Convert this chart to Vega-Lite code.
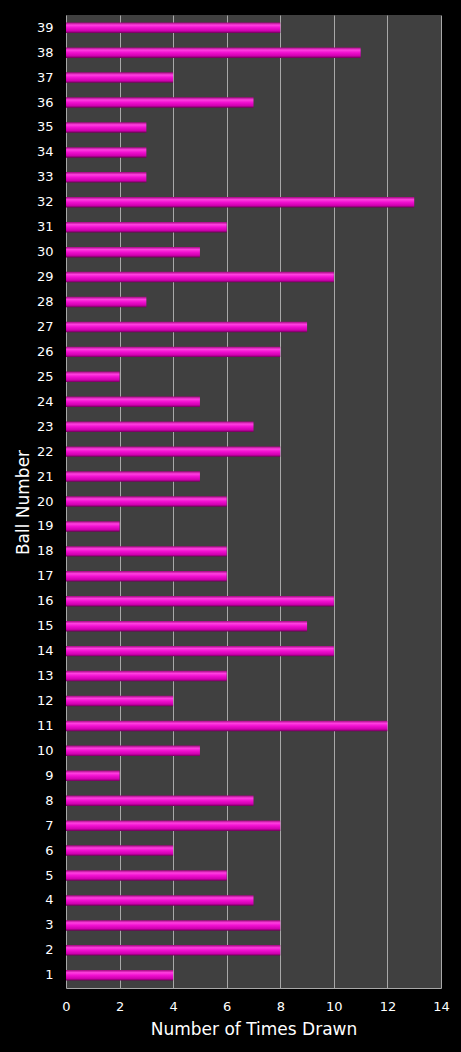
{
  "$schema": "https://vega.github.io/schema/vega-lite/v6.json",
  "autosize": "none",
  "width": 375,
  "height": 973,
  "padding": {"left": 66, "top": 15, "right": 20, "bottom": 64},
  "background": "#000000",
  "config": {
    "view": {"fill": "#404040", "stroke": null},
    "font": "DejaVu Sans"
  },
  "data": {
    "values": [
      {"ball": 1, "count": 4}, {"ball": 2, "count": 8}, {"ball": 3, "count": 8},
      {"ball": 4, "count": 7}, {"ball": 5, "count": 6}, {"ball": 6, "count": 4},
      {"ball": 7, "count": 8}, {"ball": 8, "count": 7}, {"ball": 9, "count": 2},
      {"ball": 10, "count": 5}, {"ball": 11, "count": 12}, {"ball": 12, "count": 4},
      {"ball": 13, "count": 6}, {"ball": 14, "count": 10}, {"ball": 15, "count": 9},
      {"ball": 16, "count": 10}, {"ball": 17, "count": 6}, {"ball": 18, "count": 6},
      {"ball": 19, "count": 2}, {"ball": 20, "count": 6}, {"ball": 21, "count": 5},
      {"ball": 22, "count": 8}, {"ball": 23, "count": 7}, {"ball": 24, "count": 5},
      {"ball": 25, "count": 2}, {"ball": 26, "count": 8}, {"ball": 27, "count": 9},
      {"ball": 28, "count": 3}, {"ball": 29, "count": 10}, {"ball": 30, "count": 5},
      {"ball": 31, "count": 6}, {"ball": 32, "count": 13}, {"ball": 33, "count": 3},
      {"ball": 34, "count": 3}, {"ball": 35, "count": 3}, {"ball": 36, "count": 7},
      {"ball": 37, "count": 4}, {"ball": 38, "count": 11}, {"ball": 39, "count": 8}
    ]
  },
  "mark": {
    "type": "bar",
    "color": {
      "gradient": "linear",
      "x1": 0, "y1": 0, "x2": 0, "y2": 1,
      "stops": [
        {"offset": 0, "color": "#a0087e"},
        {"offset": 0.25, "color": "#ff40e0"},
        {"offset": 0.5, "color": "#f010d0"},
        {"offset": 0.8, "color": "#d000b0"},
        {"offset": 1, "color": "#700058"}
      ]
    }
  },
  "encoding": {
    "y": {
      "field": "ball",
      "type": "ordinal",
      "sort": "descending",
      "title": "Ball Number",
      "scale": {"paddingInner": 0.58, "paddingOuter": 0.3},
      "axis": {
        "domain": false,
        "ticks": false,
        "labelColor": "#ffffff",
        "labelFontSize": 13,
        "labelPadding": 13,
        "titleColor": "#ffffff",
        "titleFontSize": 17,
        "titleFontWeight": "normal",
        "titleX": -34,
        "titleY": 487
      }
    },
    "x": {
      "field": "count",
      "type": "quantitative",
      "title": "Number of Times Drawn",
      "scale": {"domain": [0, 14]},
      "axis": {
        "values": [0, 2, 4, 6, 8, 10, 12, 14],
        "grid": true,
        "gridColor": "#a8a8a8",
        "gridWidth": 1,
        "domainColor": "#a8a8a8",
        "ticks": false,
        "labelFlush": false,
        "labelColor": "#ffffff",
        "labelFontSize": 13,
        "labelPadding": 12,
        "titleColor": "#ffffff",
        "titleFontSize": 17,
        "titleFontWeight": "normal",
        "titlePadding": 8
      }
    }
  }
}
